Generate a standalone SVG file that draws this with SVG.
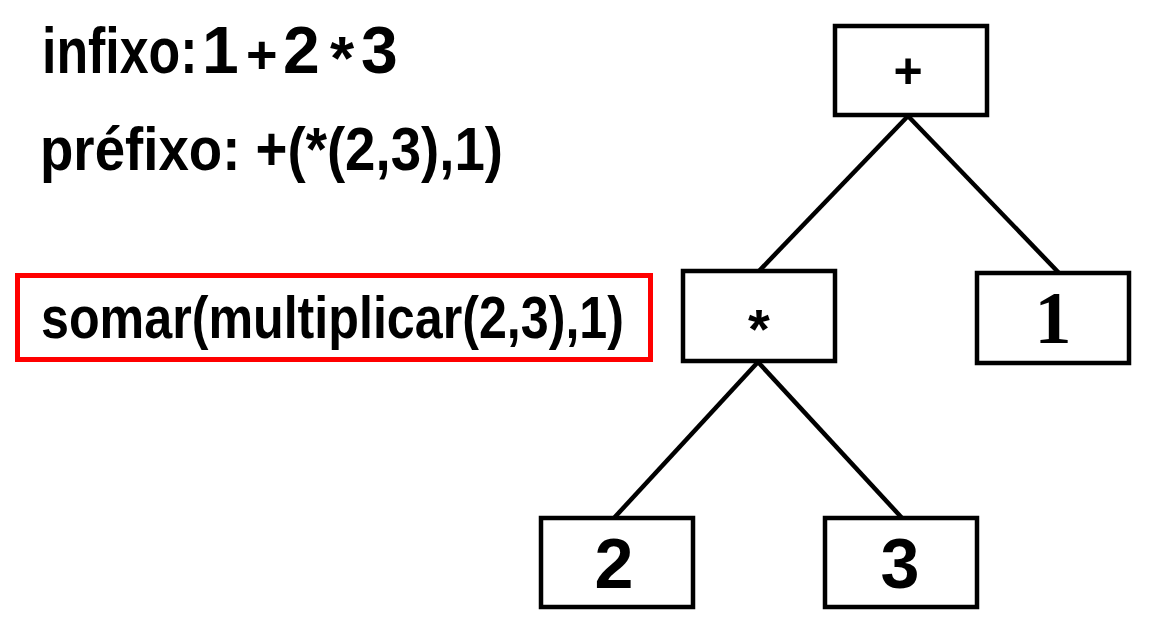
<svg xmlns="http://www.w3.org/2000/svg" width="1157" height="625" viewBox="0 0 1157 625">
<style>
.t{font-family:"Liberation Sans",Arial,sans-serif;font-weight:bold;fill:#000}
.box{fill:#fff;stroke:#000;stroke-width:4.5}
.edge{stroke:#000;stroke-width:4.5;fill:none}
.lbl{font-family:"Liberation Sans",Arial,sans-serif;font-weight:bold;fill:#000;text-anchor:middle}
</style>
<rect width="1157" height="625" fill="#fff"/>
<g id="notes">
<text class="t" font-size="64" transform="matrix(0.81 0 0 1 42 73)">infixo:</text>
<text class="t" y="73" font-size="66"><tspan x="202">1</tspan> <tspan x="246" font-size="54">+</tspan> <tspan x="283">2</tspan> <tspan x="330" y="79" font-size="62">*</tspan> <tspan x="361" y="73">3</tspan></text>
<text class="t" x="40" y="170" font-size="62" textLength="463" lengthAdjust="spacingAndGlyphs">préfixo: +(*(2,3),1)</text>
</g>
<g id="highlight">
<rect x="17.5" y="275.5" width="633" height="84" fill="none" stroke="#f00" stroke-width="5"/>
<text class="t" x="41" y="338" font-size="60" textLength="583" lengthAdjust="spacingAndGlyphs">somar(multiplicar(2,3),1)</text>
</g>
<g id="connectors">
<line class="edge" x1="908" y1="116" x2="759" y2="271"/>
<line class="edge" x1="908" y1="116" x2="1059" y2="273"/>
<line class="edge" x1="758" y1="362" x2="614" y2="518"/>
<line class="edge" x1="758" y1="362" x2="902" y2="518"/>
</g>
<g id="node-plus">
<rect class="box" x="835" y="26" width="152" height="89"/>
<text class="lbl" x="908" y="88" font-size="50">+</text>
</g>
<g id="node-times">
<rect class="box" x="683" y="271" width="152" height="90"/>
<text class="lbl" x="759" y="348" font-size="56">*</text>
</g>
<g id="node-1">
<rect class="box" x="977" y="273" width="152" height="90"/>
<text x="1053" y="343" font-size="74" font-family="'Liberation Serif',serif" font-weight="bold" text-anchor="middle">1</text>
</g>
<g id="node-2">
<rect class="box" x="541" y="518" width="152" height="89"/>
<text class="lbl" x="614" y="588" font-size="70">2</text>
</g>
<g id="node-3">
<rect class="box" x="825" y="518" width="152" height="89"/>
<text class="lbl" x="900" y="588" font-size="70">3</text>
</g>
</svg>
